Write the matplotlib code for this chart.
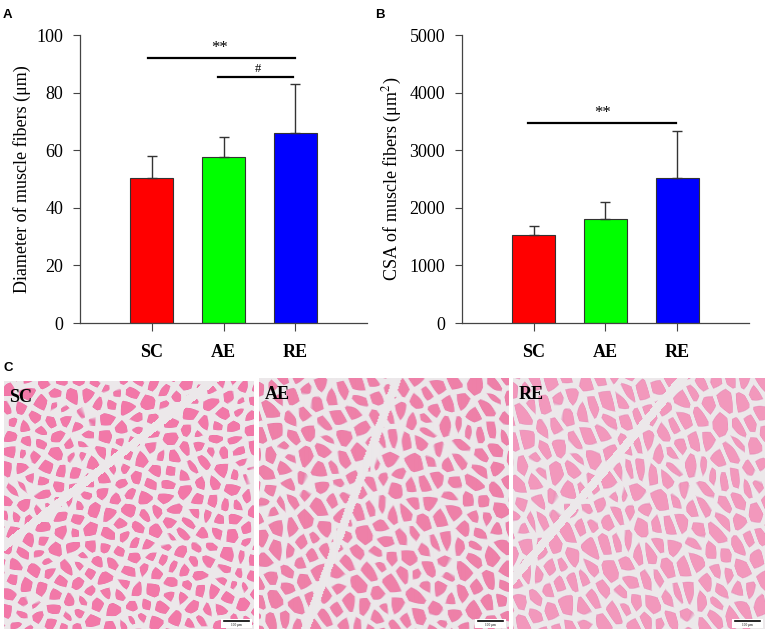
import numpy as np
import matplotlib
matplotlib.use('Agg')
from matplotlib import pyplot as plt
from matplotlib.patches import Rectangle

# bar data
groups = ['SC', 'AE', 'RE']
barColors = ['#ff0000', '#00ff00', '#0000ff']
diamMean = [50.2, 57.5, 65.9]
diamSd = [7.9, 7.2, 17.1]
csaMean = [1525, 1800, 2525]
csaSd = [160, 295, 810]

plt.rcParams['font.family'] = ['Liberation Serif', 'DejaVu Serif']
plt.rcParams['mathtext.fontset'] = 'stix'

fig = plt.figure(figsize=(7.65, 6.34), dpi=100)
W, H = 765.0, 634.0


def axesPx(x0, y0, x1, y1):
    return fig.add_axes([x0 / W, 1 - y1 / H, (x1 - x0) / W, (y1 - y0) / H])


def barPanel(ax, means, sds, ymax, ystep, ylabel):
    x = np.arange(len(groups))
    ax.bar(x, means, width=0.6, color=barColors, edgecolor='#333333', linewidth=0.8, zorder=2)
    ax.errorbar(x, means, yerr=[np.zeros(len(sds)), sds], fmt='none', ecolor='#333333',
                elinewidth=1.0, capsize=3.6, capthick=1.0, zorder=3)
    ax.set_xlim(-1.0, 3.0)
    ax.set_ylim(0, ymax)
    ax.set_yticks(np.arange(0, ymax + 1, ystep))
    ax.set_xticks(x)
    ax.set_xticklabels(groups, fontweight='bold', fontsize=13)
    ax.tick_params(axis='y', length=5, width=0.8, pad=7, labelsize=13, color='#444444')
    ax.tick_params(axis='x', length=6, width=0.8, pad=9, color='#444444')
    for s in ['top', 'right']:
        ax.spines[s].set_visible(False)
    for s in ['left', 'bottom']:
        ax.spines[s].set_color('#444444')
        ax.spines[s].set_linewidth(0.9)
    ax.set_ylabel(ylabel, fontsize=13, labelpad=4)
    ax.set_facecolor('none')


axA = axesPx(80, 35, 367, 323)
barPanel(axA, diamMean, diamSd, 100, 20, 'Diameter of muscle fibers (\u03bcm)')
axA.plot([-0.05, 2.0], [91.9, 91.9], color='black', lw=1.6, clip_on=False)
axA.text(0.95, 92.6, '**', ha='center', va='bottom', fontsize=12)
axA.plot([0.92, 1.97], [85.3, 85.3], color='black', lw=1.6, clip_on=False)
axA.text(1.48, 86.0, '#', ha='center', va='bottom', fontsize=9)

axB = axesPx(461.7, 35, 749, 323)
barPanel(axB, csaMean, csaSd, 5000, 1000, 'CSA of muscle fibers (\u03bcm$^2$)')
axB.plot([-0.07, 1.99], [3478, 3478], color='black', lw=1.6, clip_on=False)
axB.text(0.96, 3515, '**', ha='center', va='bottom', fontsize=12)

for lab, xp in [('A', 3), ('B', 375), ('C', 3)]:
    yp = 18 if lab != 'C' else 371
    fig.text(xp / W, 1 - yp / H, lab, fontsize=9.5, fontweight='bold',
             family=['Liberation Sans', 'DejaVu Sans'], va='baseline')


# stained section panels: a cell-like texture as stand-in for the photos
def hashFrac(a, b, k):
    v = np.sin(a * 12.9898 + b * 78.233 + k * 37.719) * 43758.5453
    return v - np.floor(v)


def sectionImage(w, h, spacing, stretch, angle, pink, border, bandAngle):
    yy, xx = np.mgrid[0:h, 0:w].astype(float)
    ca, sa = np.cos(angle), np.sin(angle)
    u = (xx * ca + yy * sa) / stretch
    v = -xx * sa + yy * ca
    iu = np.arange(int(np.floor(u.min() / spacing)) - 1, int(np.ceil(u.max() / spacing)) + 2)
    iv = np.arange(int(np.floor(v.min() / spacing)) - 1, int(np.ceil(v.max() / spacing)) + 2)
    gi, gj = np.meshgrid(iu, iv)
    su = (gi + 0.15 + 0.7 * hashFrac(gi, gj, 1)).ravel() * spacing
    sv = (gj + 0.15 + 0.7 * hashFrac(gi, gj, 2)).ravel() * spacing
    d1 = np.full(u.shape, 1e9)
    d2 = np.full(u.shape, 1e9)
    for a, b in zip(su, sv):
        d = np.hypot(u - a, v - b)
        m = d < d1
        d2 = np.where(m, d1, np.minimum(d2, d))
        d1 = np.where(m, d, d1)
    gap = d2 - d1
    bg = np.array([236, 232, 234]) / 255.0
    pk = np.array(pink) / 255.0
    edge = np.array([196, 86, 158]) / 255.0
    t = np.clip((gap - border) / 1.6, 0, 1)[..., None]
    rim = np.clip(1 - np.abs(gap - border - 0.8) / 1.2, 0, 1)[..., None] * 0.3
    img = bg * (1 - t) + (pk * (1 - rim) + edge * rim) * t
    # straight connective tissue bands
    bc, bs = np.cos(bandAngle), np.sin(bandAngle)
    s = xx * bc + yy * bs
    band = np.abs(np.sin(s / 70.0 + 1.3)) < 0.06
    img[band] = bg
    return img


panels = [
    ('SC', 4, 381, 254, 629, 15, 1.0, 0.3, (242, 120, 168), 4.0, 0.9),
    ('AE', 259, 378, 508, 629, 15, 1.3, 1.1, (238, 128, 168), 3.4, 0.35),
    ('RE', 513, 378, 765, 629, 14, 1.6, 1.2, (242, 152, 188), 2.8, 0.7),
]
for name, x0, y0, x1, y1, sp, st, ang, pink, bd, bang in panels:
    ax = axesPx(x0, y0, x1, y1)
    img = sectionImage(int(x1 - x0), int(y1 - y0), sp, st, ang, pink, bd, bang)
    ax.imshow(img, aspect='auto', interpolation='bilinear')
    ax.set_axis_off()
    ax.text(5, 20, name, fontsize=13, fontweight='bold', color='black', va='baseline')
    pw = x1 - x0
    ph = y1 - y0
    ax.add_patch(Rectangle((pw - 34, ph - 11), 31, 9, facecolor='white', edgecolor='none'))
    ax.plot([pw - 31, pw - 6], [ph - 8.5, ph - 8.5], color='black', lw=1.2)
    ax.text(pw - 18.5, ph - 4.5, '100 \u03bcm', fontsize=2.5, ha='center', va='center')

fig.savefig('out.png', dpi=100)
